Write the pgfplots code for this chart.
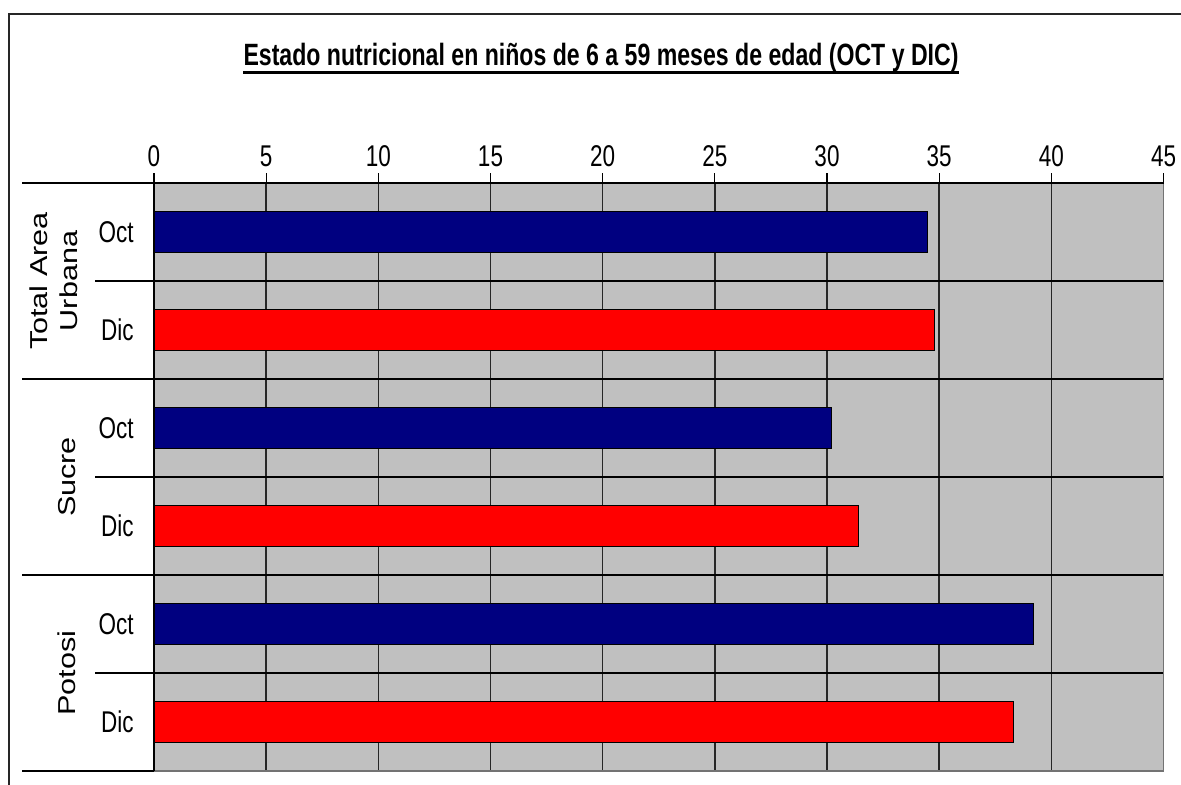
\documentclass[border=0pt]{standalone}
\usepackage{pgfplots}
\pgfplotsset{compat=1.18}
\usepackage{graphicx}
\usepackage{fontspec}
\setmainfont{Liberation Sans}
\newfontfamily\narrowfont[FakeStretch=0.75]{Liberation Sans}
\definecolor{navyb}{HTML}{000080}
\definecolor{redb}{HTML}{FF0000}
\definecolor{plotgrey}{HTML}{C0C0C0}
\newcommand{\grp}[1]{\scalebox{1}[0.8]{\fontsize{15.3}{17}\selectfont #1}}
\begin{document}
\begin{tikzpicture}
\useasboundingbox (0pt,0pt) rectangle (590.5pt,-392pt);
\draw[line width=1pt, black!85] (4.25pt,-400pt) -- (4.25pt,-6.75pt) -- (600pt,-6.75pt);
\begin{axis}[
  at={(77pt,-91.5pt)}, anchor=north west,
  scale only axis, width=504.75pt, height=294pt,
  xbar, bar width=20.5pt, bar shift=0pt,
  clip=false,
  xmin=0, xmax=45, xtick={0,5,...,45},
  ymin=-0.5, ymax=5.5, y dir=reverse,
  ytick={0,1,2,3,4,5},
  yticklabels={Oct,Dic,Oct,Dic,Oct,Dic},
  minor ytick={0.5,1.5,2.5,3.5,4.5},
  xmajorgrids, yminorgrids,
  major grid style={black!85, line width=0.75pt},
  minor grid style={black, line width=0.75pt},
  xtick pos=upper, ytick pos=lower,
  xticklabel pos=upper,
  tick align=outside,
  major x tick style={black, line width=0.6pt},
  major tick length=5pt,
  major y tick style={draw=none},
  minor y tick style={draw=none},
  axis background/.style={fill=plotgrey},
  axis line style={black!55, line width=0.9pt},
  /pgf/number format/assume math mode=true,
  ticklabel style={font=\narrowfont\fontsize{15}{18}\selectfont},
  xticklabel style={inner sep=0pt, anchor=south, yshift=3pt},
  yticklabel style={inner sep=0pt, anchor=east, xshift=-5pt},
]
\addplot[fill=navyb, draw=black, line width=0.5pt] coordinates {(34.5,0) (30.2,2) (39.2,4)};
\addplot[fill=redb, draw=black, line width=0.5pt] coordinates {(34.8,1) (31.4,3) (38.3,5)};
\draw[black, line width=0.75pt] (axis cs:0,5.5) -- (axis cs:0,-0.5) -- (axis cs:45,-0.5);
\draw[black, line width=0.75pt] (axis cs:-5.88,-0.5) -- (axis cs:0,-0.5);
\draw[black, line width=0.75pt] (axis cs:-5.88,1.5) -- (axis cs:0,1.5);
\draw[black, line width=0.75pt] (axis cs:-5.88,3.5) -- (axis cs:0,3.5);
\draw[black, line width=0.75pt] (axis cs:-5.88,5.5) -- (axis cs:0,5.5);
\draw[black, line width=0.75pt] (axis cs:-2.63,0.5) -- (axis cs:0,0.5);
\draw[black, line width=0.75pt] (axis cs:-2.63,2.5) -- (axis cs:0,2.5);
\draw[black, line width=0.75pt] (axis cs:-2.63,4.5) -- (axis cs:0,4.5);
\node[rotate=90, anchor=base, inner sep=0pt] at (axis cs:-4.73,0.5) {\grp{Total Area}};
\node[rotate=90, anchor=base, inner sep=0pt] at (axis cs:-3.43,0.5) {\grp{Urbana}};
\node[rotate=90, anchor=base, inner sep=0pt] at (axis cs:-3.52,2.5) {\grp{Sucre}};
\node[rotate=90, anchor=base, inner sep=0pt] at (axis cs:-3.52,4.5) {\grp{Potosi}};
\end{axis}
\node[inner sep=0pt, anchor=base, font=\narrowfont\bfseries\fontsize{15.4}{18}\selectfont] (t) at (300.5pt,-32.5pt) {Estado nutricional en niños de 6 a 59 meses de edad (OCT y DIC)};
\draw[line width=1.5pt] ([yshift=-3.5pt]t.base west) -- ([yshift=-3.5pt]t.base east);
\end{tikzpicture}
\end{document}
